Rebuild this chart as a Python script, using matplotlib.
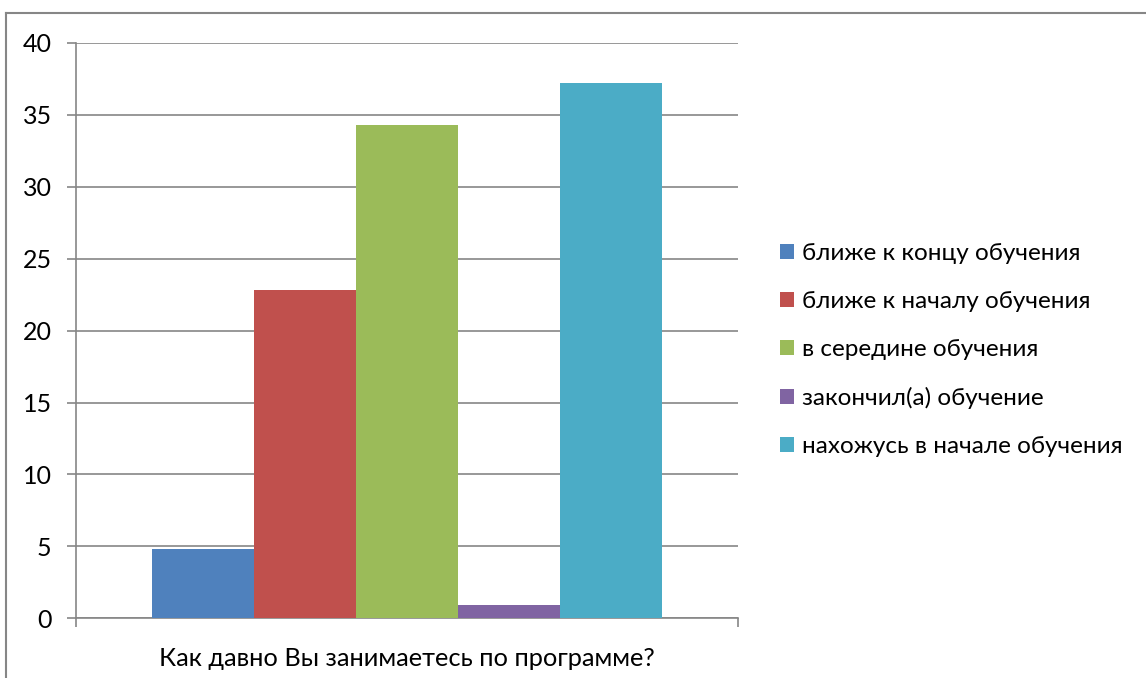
import matplotlib.pyplot as plt
from matplotlib.lines import Line2D

# data (percent of respondents)
question = "Как давно Вы занимаетесь по программе?"
answers = [
    "ближе к концу обучения",
    "ближе к началу обучения",
    "в середине обучения",
    "закончил(а) обучение",
    "нахожусь в начале обучения",
]
values = [4.8, 22.8, 34.3, 0.9, 37.2]
colors = ["#4F81BD", "#C0504D", "#9BBB59", "#8064A2", "#4BACC6"]

plt.rcParams['font.family'] = ['Lato', 'DejaVu Sans']
plt.rcParams['font.size'] = 17.5

fig = plt.figure(figsize=(11.46, 6.78), dpi=100)
ax = fig.add_axes([0.0663, 0.0881, 0.5777, 0.8485])

# excel-like clustered bars, gap width 150%
w = 1 / 6.5
for i, (lab, v, c) in enumerate(zip(answers, values, colors)):
    ax.bar((i - 2) * w, v, width=w, color=c, label=lab, zorder=3)

grey = "#868686"
ax.set_xlim(-0.5, 0.5)
ax.set_ylim(0, 40)
ax.set_yticks(range(0, 41, 5))
ax.set_xticks([-0.5, 0.5], minor=False)
ax.set_xticklabels([])
ax.set_xticks([0], minor=True)
ax.set_xticklabels([question], minor=True)
ax.tick_params(axis='x', which='major', length=6.5, color=grey, width=1.2)
ax.tick_params(axis='x', which='minor', length=0, pad=21, labelsize=18.3)
ax.tick_params(axis='y', length=6.5, color=grey, width=1.2, pad=11, labelsize=18)
ax.yaxis.grid(True, color=grey, linewidth=1.2, zorder=0)
ax.set_axisbelow(True)
for s in ["top", "right"]:
    ax.spines[s].set_visible(False)
for s in ["left", "bottom"]:
    ax.spines[s].set_color(grey)
    ax.spines[s].set_linewidth(1.2)

leg = ax.legend(loc='center left', bbox_to_anchor=(0.6806, 0.484),
                bbox_transform=fig.transFigure, frameon=False,
                handlelength=0.58, handleheight=0.58, handletextpad=0.33,
                labelspacing=1.11, borderaxespad=0, borderpad=0)

# outer chart border (only top/left visible in the crop)
fig.add_artist(Line2D([6 / 1146, 1], [1 - 13 / 678, 1 - 13 / 678], color=grey, linewidth=1.5))
fig.add_artist(Line2D([6 / 1146, 6 / 1146], [0, 1 - 13 / 678], color=grey, linewidth=1.5))

fig.savefig("out.png", dpi=100)
